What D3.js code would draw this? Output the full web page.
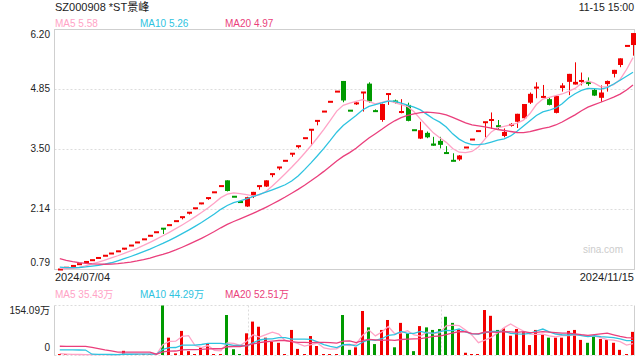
<!DOCTYPE html>
<html><head><meta charset="utf-8">
<script src="https://cdn.jsdelivr.net/npm/d3@7"></script>
<style>
html,body{margin:0;padding:0;background:#fff;}
svg{display:block;font-family:"Liberation Sans",Arial,"Noto Sans CJK SC",sans-serif;}
</style></head><body>
<svg id="c" width="640" height="360"></svg>
<script>
const title = "SZ000908 *ST景峰";
const timeLabel = "11-15 15:00";
const dateLabels = ["2024/07/04", "2024/11/15"];
const priceTickLabels = ["0.79", "2.14", "3.50", "4.85", "6.20"];
const priceMin = 0.79, priceMax = 6.20;
const volTickLabels = ["154.09万", "0"];
const volMax = 154.09;
const maLegend = ["MA5 5.58", "MA10 5.26", "MA20 4.97"];
const volLegend = ["MA5 35.43万", "MA10 44.29万", "MA20 52.51万"];
const maPeriods = [5, 10, 20];

// price history before the first visible day (only used for moving averages)
const prevCloses = [1.52,1.45,1.38,1.31,1.24,1.18,1.12,1.06,1.01,0.96,0.92,0.89,0.87,0.84,0.82,0.86,0.85,0.82,0.76];
const prevVolumes = [3,2,3,2,70,75,80,70,70,10,3,2,3,2,130,6,5,4,3];

const opens = [0.79,0.83,0.87,0.91,0.96,1.00,1.05,1.10,1.15,1.20,1.26,1.33,1.40,1.47,1.55,1.63,
1.72,1.79,1.88,1.97,2.07,2.17,2.28,2.40,2.53,2.67,2.80,2.43,2.31,2.21,2.44,2.67,2.66,2.94,3.09,3.24,
3.40,3.57,3.75,3.94,4.14,4.35,4.57,4.80,5.04,4.37,4.52,4.78,4.98,4.37,4.16,4.74,4.60,4.33,4.50,3.93,
3.74,3.87,3.63,3.69,3.43,3.25,3.27,3.54,3.72,3.91,4.11,4.14,4.04,3.80,4.03,4.12,4.20,4.55,4.88,4.67,
4.63,4.32,4.88,5.02,4.96,5.02,5.02,4.84,4.66,4.97,5.20,5.40,5.83,5.85];
const highs = [0.79,0.83,0.87,0.91,0.96,1.00,1.05,1.10,1.15,1.20,1.26,1.33,1.40,1.47,1.55,1.63,
1.72,1.79,1.88,1.97,2.07,2.17,2.28,2.40,2.53,2.67,2.80,2.43,2.31,2.43,2.54,2.67,2.80,2.94,3.09,3.24,
3.40,3.57,3.75,3.94,4.14,4.35,4.57,4.80,5.04,4.37,4.56,4.78,5.01,4.40,4.53,4.75,4.62,4.63,4.55,3.93,
4.12,3.90,3.78,3.78,3.57,3.41,3.37,3.54,3.72,3.91,4.11,4.33,4.16,3.97,4.09,4.30,4.52,4.78,5.01,4.95,
4.66,4.72,4.99,5.20,5.46,5.23,5.12,4.86,4.94,5.05,5.29,5.55,5.83,6.12];
const lows = [0.79,0.83,0.87,0.91,0.96,1.00,1.05,1.10,1.15,1.20,1.24,1.33,1.40,1.47,1.55,1.63,
1.59,1.77,1.88,1.92,2.03,2.17,2.26,2.36,2.53,2.67,2.55,2.43,2.31,2.20,2.40,2.59,2.65,2.87,3.03,3.24,
3.33,3.52,3.75,3.58,4.04,4.35,4.57,4.80,4.56,4.37,4.50,4.35,4.55,4.35,4.12,4.50,4.53,4.31,4.13,3.93,
3.73,3.75,3.58,3.52,3.40,3.23,3.24,3.54,3.72,3.91,3.77,3.96,3.94,3.77,4.01,3.98,4.18,4.52,4.65,4.66,
4.49,4.31,4.80,4.72,4.96,4.94,4.93,4.70,4.57,4.80,5.12,5.35,5.83,5.61];
const closes = [0.79,0.83,0.87,0.91,0.96,1.00,1.05,1.10,1.15,1.20,1.26,1.33,1.40,1.47,1.55,1.63,
1.70,1.79,1.88,1.97,2.07,2.17,2.28,2.40,2.53,2.67,2.56,2.43,2.31,2.42,2.54,2.67,2.80,2.94,3.09,3.24,
3.40,3.57,3.75,3.94,4.14,4.35,4.57,4.80,4.60,4.37,4.55,4.78,4.58,4.35,4.52,4.75,4.55,4.35,4.14,3.93,
3.93,3.77,3.58,3.60,3.40,3.23,3.36,3.54,3.72,3.91,4.11,4.18,4.00,3.89,4.07,4.30,4.52,4.75,4.90,4.69,
4.50,4.70,4.94,5.20,5.02,5.06,4.97,4.71,4.78,5.04,5.29,5.55,5.83,6.12];
// volume, in 万 shares
const volumes = [2,1,1,1,1,1,1,2,2,1,13,1,2,1,1,1,
154.09,54,5,75,12,1,23,36,2,2,124.5,18,2,67.5,104,88,54,41,38,2,
78,19,2,59,28,2,2,3,124.5,16,24,137,86,34,78,109,24,100,67,12,
90,86,78,81,119,100,80,7,3,3,140,122,78,83,60,81,71,31,78,64,
54,54,54,75,78,47,38,57,50,47,38,16,3,72];

const RED = "#f20000", GREEN = "#009a00";
const MA_COLORS = ["#ffa3c6", "#2ec3e0", "#ea3f7c"];
const GRID = "#dcdcdc", FRAME = "#cfcfcf", TEXT = "#222";

const svg = d3.select("#c");
const n = closes.length;
const L = 54.5, R = 634.5, T = 29.5, B = 269.5;
const VT = 305.5, VB = 355.5;

const x = d3.scaleLinear().domain([0, n - 1]).range([59.8, 633]);
const y = d3.scaleLinear().domain([priceMin, priceMax]).range([B, T]);
const yv = d3.scaleLinear().domain([0, volMax]).range([VB - 0.5, VT]);

function movingAvg(prev, arr, p) {
  const all = prev.concat(arr);
  const off = prev.length;
  return arr.map((_, i) => d3.mean(all.slice(off + i - p + 1, off + i + 1)));
}

// ---------- header ----------
svg.append("text").attr("x", 55).attr("y", 8.5).attr("dominant-baseline", "middle")
  .attr("font-size", 11).attr("fill", TEXT).text(title);
svg.append("text").attr("x", 634).attr("y", 8.5).attr("dominant-baseline", "middle")
  .attr("text-anchor", "end").attr("font-size", 10.5).attr("fill", TEXT).text(timeLabel);

const legendX = [55, 140, 225];
maLegend.forEach((t, i) => svg.append("text").attr("x", legendX[i]).attr("y", 24.5)
  .attr("dominant-baseline", "middle").attr("font-size", 10).attr("fill", MA_COLORS[i]).text(t));
volLegend.forEach((t, i) => svg.append("text").attr("x", legendX[i]).attr("y", 295)
  .attr("dominant-baseline", "middle").attr("font-size", 10).attr("fill", MA_COLORS[i]).text(t));

// ---------- main panel ----------
const tickVals = priceTickLabels.map((_, i) => priceMin + i * (priceMax - priceMin) / (priceTickLabels.length - 1));
tickVals.forEach((v, i) => {
  const yy = y(v);
  if (i > 0 && i < tickVals.length - 1) {
    svg.append("line").attr("x1", L).attr("x2", R).attr("y1", yy).attr("y2", yy)
      .attr("stroke", GRID).attr("stroke-width", 1).attr("stroke-dasharray", "2,2");
  }
  let ly = yy;
  if (i === 0) ly = yy - 6;
  if (i === tickVals.length - 1) ly = yy + 6;
  svg.append("text").attr("x", 50).attr("y", ly).attr("text-anchor", "end")
    .attr("dominant-baseline", "middle").attr("font-size", 10).attr("fill", TEXT).text(priceTickLabels[i]);
});
svg.append("rect").attr("x", L).attr("y", T).attr("width", R - L).attr("height", B - T)
  .attr("fill", "none").attr("stroke", FRAME).attr("stroke-width", 1);

svg.append("text").attr("x", 623).attr("y", 250).attr("text-anchor", "end")
  .attr("dominant-baseline", "middle").attr("font-size", 10).attr("fill", "#cccccc").text("sina.com");

svg.append("text").attr("x", 55).attr("y", 278).attr("dominant-baseline", "middle")
  .attr("font-size", 11).attr("fill", TEXT).text(dateLabels[0]);
svg.append("text").attr("x", 634).attr("y", 278).attr("dominant-baseline", "middle")
  .attr("text-anchor", "end").attr("font-size", 11).attr("fill", TEXT).text(dateLabels[1]);

const data = closes.map((c, i) => {
  const pc = i === 0 ? prevCloses[prevCloses.length - 1] : closes[i - 1];
  const o = opens[i];
  const up = c > o ? true : c < o ? false : c >= pc;
  return { i, o, h: highs[i], l: lows[i], c, v: volumes[i], up };
});

const cg = svg.append("g");
data.forEach(d => {
  const cx = Math.round(x(d.i));
  const col = d.up ? RED : GREEN;
  cg.append("line").attr("x1", cx + 0.5).attr("x2", cx + 0.5)
    .attr("y1", y(d.h)).attr("y2", y(d.l)).attr("stroke", col).attr("stroke-width", 1);
  const top = y(Math.max(d.o, d.c)), bot = y(Math.min(d.o, d.c));
  let h = bot - top, yy = top;
  if (h < 2) { yy = (top + bot) / 2 - 1; h = 2; }
  cg.append("rect").attr("x", cx - 2).attr("y", yy).attr("width", 5).attr("height", h).attr("fill", col);
});

const line = d3.line().x((d, i) => x(i)).y(d => y(d));
maPeriods.forEach((p, k) => {
  const ma = movingAvg(prevCloses, closes, p);
  svg.append("path").datum(ma).attr("d", line).attr("fill", "none")
    .attr("stroke", MA_COLORS[k]).attr("stroke-width", 1.3);
});

// ---------- volume panel ----------
svg.append("line").attr("x1", L).attr("x2", R).attr("y1", VT).attr("y2", VT)
  .attr("stroke", GRID).attr("stroke-dasharray", "2,2");
svg.append("line").attr("x1", L).attr("x2", R).attr("y1", VB).attr("y2", VB)
  .attr("stroke", GRID).attr("stroke-dasharray", "2,2");
[1, 2].forEach(j => {
  const xx = Math.round(L + (R - L) * j / 3) + 0.5;
  svg.append("line").attr("x1", xx).attr("x2", xx).attr("y1", VT).attr("y2", VB)
    .attr("stroke", GRID).attr("stroke-dasharray", "2,2");
});
svg.append("line").attr("x1", L).attr("x2", L).attr("y1", VT).attr("y2", VB).attr("stroke", FRAME);
svg.append("line").attr("x1", R).attr("x2", R).attr("y1", VT).attr("y2", VB).attr("stroke", FRAME);

svg.append("text").attr("x", 50).attr("y", 311).attr("text-anchor", "end")
  .attr("dominant-baseline", "middle").attr("font-size", 10).attr("fill", TEXT).text(volTickLabels[0]);
svg.append("text").attr("x", 50).attr("y", 348.5).attr("text-anchor", "end")
  .attr("dominant-baseline", "middle").attr("font-size", 10).attr("fill", TEXT).text(volTickLabels[1]);

const vg = svg.append("g");
data.forEach(d => {
  const cx = Math.round(x(d.i));
  const top = yv(d.v);
  const h = Math.max(1, (VB - 0.5) - top);
  vg.append("rect").attr("x", cx - 2).attr("y", (VB - 0.5) - h).attr("width", 3).attr("height", h)
    .attr("fill", d.up ? RED : GREEN);
});
const vline = d3.line().x((d, i) => x(i)).y(d => yv(d));
maPeriods.forEach((p, k) => {
  const ma = movingAvg(prevVolumes, volumes, p);
  svg.append("path").datum(ma).attr("d", vline).attr("fill", "none")
    .attr("stroke", MA_COLORS[k]).attr("stroke-width", 1.3);
});
</script>
</body></html>
